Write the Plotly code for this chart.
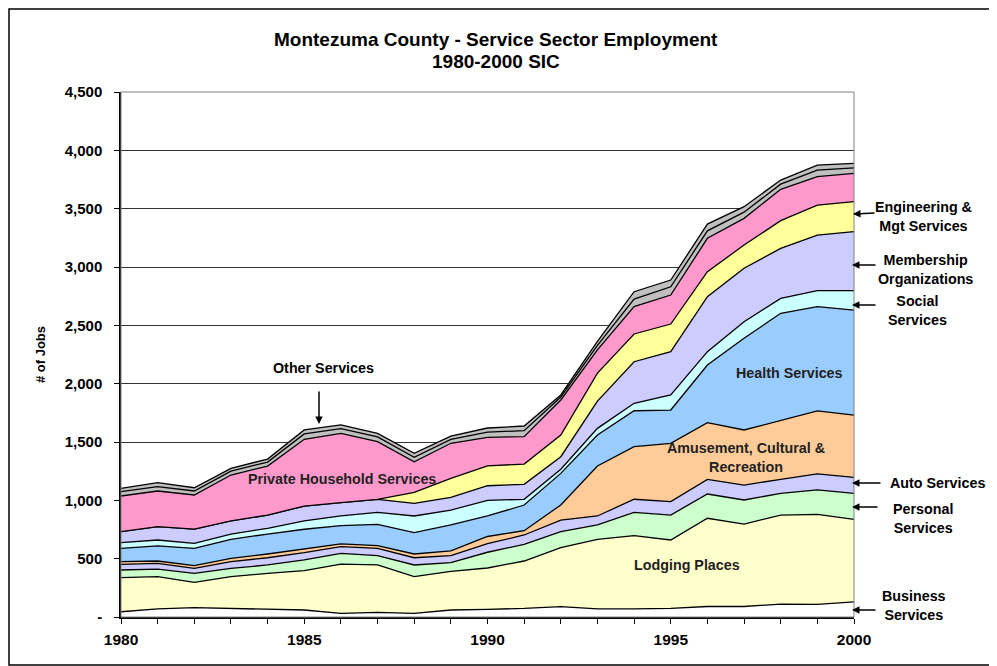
import plotly.graph_objects as go

years = list(range(1980, 2001))

business = [45, 69, 80, 74, 66, 60, 31, 40, 31, 60, 66, 74, 89, 69, 69, 74, 90, 90, 111, 109, 130]
lodging = [292, 277, 217, 272, 308, 337, 423, 406, 315, 331, 354, 406, 505, 597, 628, 586, 756, 707, 763, 771, 707]
personal = [66, 65, 77, 71, 72, 92, 92, 80, 100, 75, 135, 143, 137, 123, 200, 214, 208, 206, 186, 209, 223]
auto = [48, 49, 43, 57, 62, 62, 57, 63, 62, 60, 73, 80, 100, 77, 112, 115, 126, 128, 120, 137, 137]
amusement = [23, 20, 23, 29, 32, 32, 23, 22, 32, 40, 62, 37, 129, 428, 451, 500, 486, 472, 503, 540, 534]
health = [115, 129, 149, 163, 171, 169, 157, 183, 183, 223, 176, 220, 271, 266, 308, 285, 494, 786, 920, 894, 900]
social = [48, 51, 42, 45, 49, 71, 83, 103, 143, 128, 134, 49, 35, 57, 64, 129, 114, 142, 128, 137, 166]
membership = [94, 114, 123, 112, 114, 128, 114, 112, 108, 109, 125, 128, 108, 233, 356, 371, 472, 458, 429, 477, 506]
engineering = [0, 0, 0, 0, 0, 0, 0, 0, 95, 163, 170, 174, 186, 240, 238, 237, 214, 199, 237, 257, 257]
private_household = [306, 306, 292, 394, 420, 572, 594, 494, 262, 300, 245, 235, 300, 200, 234, 249, 286, 229, 269, 243, 243]
misc_services = [37, 38, 34, 33, 34, 46, 40, 40, 38, 34, 45, 51, 25, 38, 65, 70, 64, 53, 44, 56, 47]
other_services = [29, 33, 28, 24, 26, 34, 32, 31, 34, 28, 35, 40, 18, 34, 63, 58, 58, 47, 35, 44, 39]

series = [
    ("Business Services", business, "#FFFFFF"),
    ("Lodging Places", lodging, "#FFFFCC"),
    ("Personal Services", personal, "#CCFFCC"),
    ("Auto Services", auto, "#CCCCFF"),
    ("Amusement, Cultural & Recreation", amusement, "#FFCC99"),
    ("Health Services", health, "#99CCFF"),
    ("Social Services", social, "#CCFFFF"),
    ("Membership Organizations", membership, "#CCCCFF"),
    ("Engineering & Mgt Services", engineering, "#FFFF99"),
    ("Private Household Services", private_household, "#FF99CC"),
    ("Misc. Services", misc_services, "#C0C0C0"),
    ("Other Services", other_services, "#C0C0C0"),
]

y_ticks = [0, 500, 1000, 1500, 2000, 2500, 3000, 3500, 4000, 4500]
y_ticktext = ["-", "500", "1,000", "1,500", "2,000", "2,500", "3,000", "3,500", "4,000", "4,500"]
x_ticks = [1980, 1985, 1990, 1995, 2000]

FONT = "Arial, Liberation Sans, sans-serif"

fig = go.Figure()
for name, vals, color in series:
    fig.add_trace(go.Scatter(
        x=years, y=vals, name=name, mode="lines",
        stackgroup="one", fillcolor=color,
        line=dict(color="#000000", width=1.3),
        hoverinfo="x+y+name",
    ))

# page body has an 8px margin: figure pixel = screen pixel - 8
OFF = 8
W, H = 997 - OFF, 666 - OFF
L, T = 121 - OFF, 92 - OFF
R = W - (854 - OFF)
B = H - (617 - OFF)
pw, ph = W - L - R, H - T - B

def px(x):
    return (x - OFF - L) / pw

def py(y):
    return (H - B - (y - OFF)) / ph

LBL = 14.3
annotations = [
    dict(text="<b>Montezuma County - Service Sector Employment</b>",
         xref="paper", yref="paper", x=px(496), y=py(39), xanchor="center", yanchor="middle",
         showarrow=False, font=dict(size=19, color="#000")),
    dict(text="<b>1980-2000 SIC</b>",
         xref="paper", yref="paper", x=px(496), y=py(61), xanchor="center", yanchor="middle",
         showarrow=False, font=dict(size=19, color="#000")),
    dict(text="<b>Other Services</b>", xref="paper", yref="paper",
         x=px(323), y=py(368), xanchor="center", yanchor="middle",
         showarrow=False, font=dict(size=LBL, color="#000")),
    dict(text="", xref="paper", yref="paper", x=px(319), y=py(424),
         axref="pixel", ayref="pixel", ax=0, ay=-34,
         showarrow=True, arrowhead=2, arrowsize=1, arrowwidth=1.5, arrowcolor="#000"),
    dict(text="<b>Private Household Services</b>", xref="paper", yref="paper",
         x=px(342), y=py(479), xanchor="center", yanchor="middle",
         showarrow=False, font=dict(size=LBL, color="#222")),
    dict(text="<b>Health Services</b>", xref="paper", yref="paper",
         x=px(789), y=py(373), xanchor="center", yanchor="middle",
         showarrow=False, font=dict(size=LBL, color="#222")),
    dict(text="<b>Amusement, Cultural &amp;<br>Recreation</b>", xref="paper", yref="paper",
         x=px(746), y=py(458), xanchor="center", yanchor="middle",
         showarrow=False, font=dict(size=LBL, color="#222")),
    dict(text="<b>Lodging Places</b>", xref="paper", yref="paper",
         x=px(687), y=py(565), xanchor="center", yanchor="middle",
         showarrow=False, font=dict(size=LBL, color="#222")),
]

right_labels = [
    ("<b>Engineering &amp;<br>Mgt Services</b>", 923, 216, 876, 213, 853, 214),
    ("<b>Membership<br>Organizations</b>", 925, 269, 877, 265, 852, 265),
    ("<b>Social<br>Services</b>", 918, 310, 877, 305, 852, 305),
    ("<b>Auto Services</b>", 937, 483, 882, 483, 852, 483),
    ("<b>Personal<br>Services</b>", 923, 518, 879, 507, 852, 507),
    ("<b>Business<br>Services</b>", 914, 605, 877, 610, 852, 610),
]
for text, tx, ty, ax0, ay0, hx, hy in right_labels:
    annotations.append(dict(text=text, xref="paper", yref="paper", x=px(tx), y=py(ty),
                            xanchor="center", yanchor="middle",
                            showarrow=False, font=dict(size=LBL, color="#000"), align="center"))
    annotations.append(dict(text="", xref="paper", yref="paper", x=px(hx), y=py(hy),
                            axref="pixel", ayref="pixel", ax=ax0 - hx, ay=ay0 - hy,
                            showarrow=True, arrowhead=2, arrowsize=1, arrowwidth=1.5,
                            arrowcolor="#000"))

fig.update_layout(
    width=W, height=H,
    margin=dict(l=L, r=R, t=T, b=B),
    paper_bgcolor="white", plot_bgcolor="white",
    showlegend=False,
    font=dict(family=FONT, color="#000"),
    annotations=annotations,
    shapes=[
        dict(type="rect", xref="paper", yref="paper",
             x0=px(9), x1=px(995), y0=py(665), y1=py(9),
             line=dict(color="#000", width=1.5), fillcolor="rgba(0,0,0,0)", layer="below"),
        dict(type="rect", xref="paper", yref="paper", x0=0, x1=1, y0=0, y1=1,
             line=dict(color="#808080", width=1), fillcolor="rgba(0,0,0,0)", layer="above"),
    ],
    xaxis=dict(range=[1980, 2000], tickvals=x_ticks,
               ticktext=[f"<b>{v}</b>" for v in x_ticks],
               tickfont=dict(size=15.5, family=FONT), showgrid=False,
               ticks="outside", ticklen=5, tickcolor="#000",
               ticklabelstandoff=3,
               minor=dict(dtick=1, ticks="outside", ticklen=5, tickcolor="#000"),
               showline=True, linecolor="#000", linewidth=1.5, zeroline=False,
               fixedrange=True),
    yaxis=dict(range=[0, 4500], tickvals=y_ticks,
               ticktext=[f"<b>{t}</b>" for t in y_ticktext],
               tickfont=dict(size=15, family=FONT),
               showgrid=True, gridcolor="#333", gridwidth=1,
               ticks="outside", ticklen=5, tickcolor="#000",
               ticklabelstandoff=9,
               showline=True, linecolor="#000", linewidth=1.5, zeroline=False,
               title=dict(text="<b># of Jobs</b>", font=dict(size=13), standoff=16),
               fixedrange=True),
)

fig.write_html("out.html")
